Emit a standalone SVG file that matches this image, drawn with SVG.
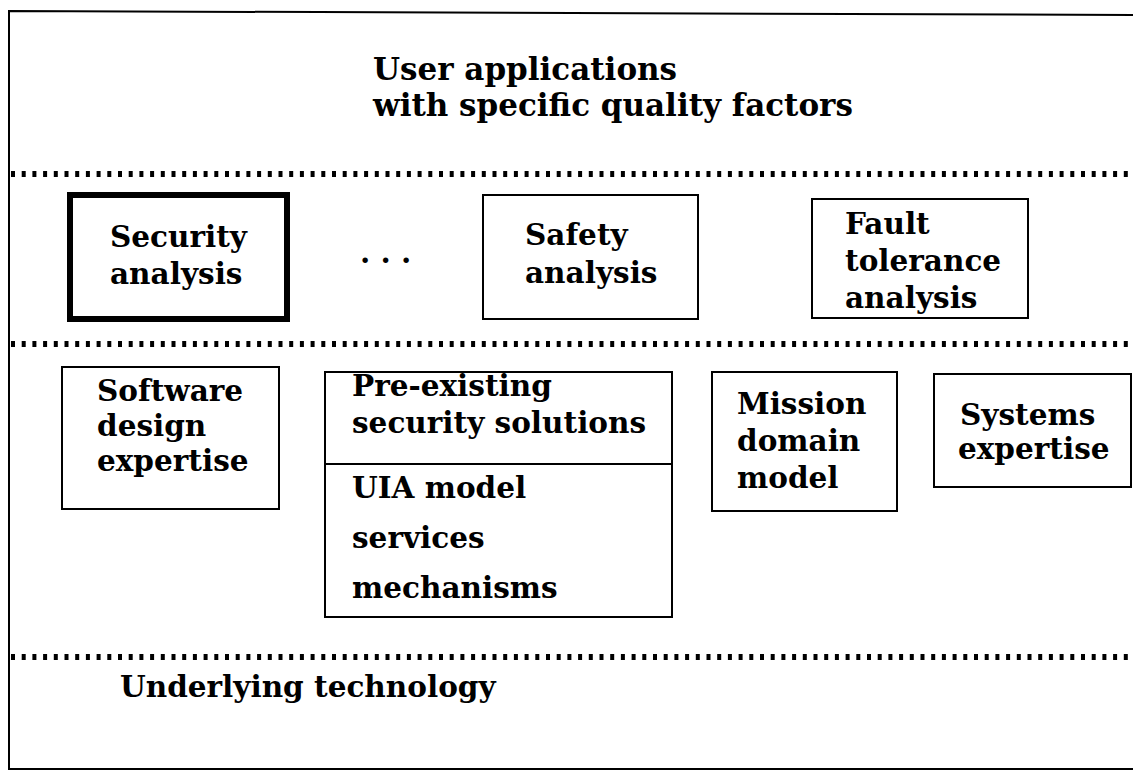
<svg xmlns="http://www.w3.org/2000/svg" width="1133" height="773" viewBox="0 0 1133 773">
<style>
text{font-family:"DejaVu Serif","Liberation Serif",serif;font-weight:bold;font-size:29.5px;fill:#000}
.title{font-size:31px}
.box{fill:none;stroke:#000;stroke-width:2}
.thick{fill:none;stroke:#000;stroke-width:6}
.dots{stroke:#000;stroke-width:6;stroke-dasharray:4 6.7}
.frame{fill:none;stroke:#000;stroke-width:2}
</style>
<rect width="1133" height="773" fill="#fff"/>
<g id="frame">
<polyline class="frame" points="1133,15 9,11 9,769 1133,769"/>
</g>
<g id="separators">
<line class="dots" x1="11" y1="174" x2="1131" y2="174"/>
<line class="dots" x1="11" y1="344" x2="1131" y2="344"/>
<line class="dots" x1="11" y1="657" x2="1131" y2="657"/>
</g>
<g id="user-applications">
<text class="title" x="373" y="80">User applications</text>
<text class="title" x="373" y="116">with specific quality factors</text>
</g>
<g id="security-analysis">
<rect class="thick" x="70" y="195" width="217" height="124"/>
<text x="110" y="247">Security</text>
<text x="110" y="284">analysis</text>
</g>
<g id="ellipsis">
<text x="360" y="263" font-size="28">. . .</text>
</g>
<g id="safety-analysis">
<rect class="box" x="483" y="195" width="215" height="124"/>
<text x="525" y="245">Safety</text>
<text x="525" y="283">analysis</text>
</g>
<g id="fault-tolerance-analysis">
<rect class="box" x="812" y="199" width="216" height="119"/>
<text x="845" y="234">Fault</text>
<text x="845" y="271">tolerance</text>
<text x="845" y="308">analysis</text>
</g>
<g id="software-design-expertise">
<rect class="box" x="62" y="367" width="217" height="142"/>
<text x="97" y="401">Software</text>
<text x="97" y="436">design</text>
<text x="97" y="471">expertise</text>
</g>
<g id="pre-existing-security-solutions">
<rect class="box" x="325" y="372" width="347" height="245"/>
<line class="box" x1="325" y1="464" x2="672" y2="464"/>
<text x="352" y="396">Pre-existing</text>
<text x="352" y="433">security solutions</text>
<text x="352" y="498">UIA model</text>
<text x="352" y="548">services</text>
<text x="352" y="598">mechanisms</text>
</g>
<g id="mission-domain-model">
<rect class="box" x="712" y="372" width="185" height="139"/>
<text x="737" y="414">Mission</text>
<text x="737" y="451">domain</text>
<text x="737" y="488">model</text>
</g>
<g id="systems-expertise">
<rect class="box" x="934" y="374" width="197" height="113"/>
<text x="960" y="425">Systems</text>
<text x="958" y="459">expertise</text>
</g>
<g id="underlying-technology">
<text x="120" y="697">Underlying technology</text>
</g>
<g id="connectors"></g>
</svg>
